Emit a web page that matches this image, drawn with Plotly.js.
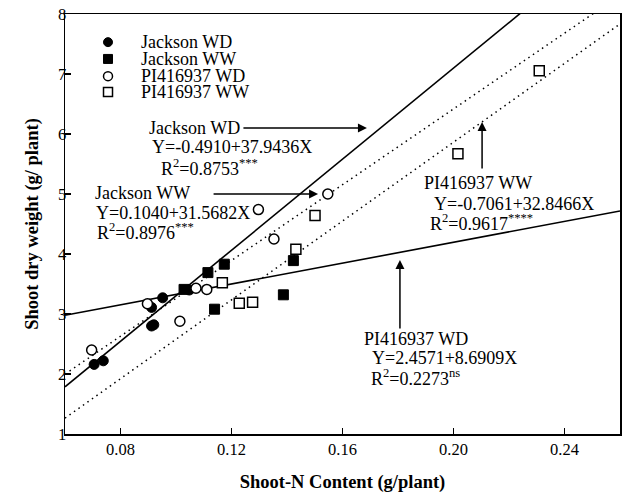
<!DOCTYPE html>
<html>
<head>
<meta charset="utf-8">
<script src="https://cdn.plot.ly/plotly-3.0.1.min.js"></script>
<style>html,body{margin:0;padding:0;background:#fff;}#chart{width:624px;height:493px;}</style>
</head>
<body>
<div id="chart"></div>
<script>
// ---- data ----
const seriesNames = ['Jackson WD', 'Jackson WW', 'PI416937 WD', 'PI416937 WW'];

const xJacksonWD = [0.0705, 0.0738, 0.0912, 0.0920, 0.0912, 0.0952, 0.1048];
const yJacksonWD = [2.16, 2.22, 2.80, 2.82, 3.11, 3.27, 3.40];

const xJacksonWW = [0.1029, 0.1115, 0.1174, 0.1139, 0.1423, 0.1387];
const yJacksonWW = [3.41, 3.69, 3.83, 3.08, 3.89, 3.32];

const xPIWD = [0.0696, 0.0897, 0.1014, 0.1072, 0.1111, 0.1297, 0.1353, 0.1547];
const yPIWD = [2.40, 3.17, 2.88, 3.43, 3.41, 4.74, 4.25, 5.00];

const xPIWW = [0.1167, 0.1228, 0.1276, 0.1432, 0.1501, 0.2016, 0.2309];
const yPIWW = [3.52, 3.18, 3.195, 4.08, 4.64, 5.67, 7.055];

// regression equations (intercept, slope) as printed on the chart
const intercepts = [-0.4910, 0.1040, 2.4571, -0.7061];
const slopes = [37.9436, 31.5682, 8.6909, 32.8466];
const r2Text = ['0.8753', '0.8976', '0.2273', '0.9617'];
const sigText = ['***', '***', 'ns', '****'];

const xRange = [0.06, 0.26];
const yRange = [1, 8];
const xTickVals = [0.08, 0.12, 0.16, 0.20, 0.24];
const xTickText = ['0.08', '0.12', '0.16', '0.20', '0.24'];
const yTickVals = [1, 2, 3, 4, 5, 6, 7, 8];

// ---- styles ----
const FONT = 'Liberation Serif, Times New Roman, serif';
const markerStyles = [
  {symbol: 'circle', color: '#000', line: {color: '#000', width: 1}},
  {symbol: 'square', color: '#000', line: {color: '#000', width: 1}},
  {symbol: 'circle', color: '#fff', line: {color: '#000', width: 1.5}},
  {symbol: 'square', color: '#fff', line: {color: '#000', width: 1.5}}
];
const lineStyles = [
  {color: '#000', width: 1.6, dash: 'solid'},
  {color: '#000', width: 1.5, dash: '1.5px,4px'},
  {color: '#000', width: 1.6, dash: 'solid'},
  {color: '#000', width: 1.5, dash: '1.5px,4px'}
];

const xs = [xJacksonWD, xJacksonWW, xPIWD, xPIWW];
const ys = [yJacksonWD, yJacksonWW, yPIWD, yPIWW];

const traces = [];
// regression lines
for (let i = 0; i < 4; i++) {
  traces.push({
    type: 'scatter', mode: 'lines',
    x: xRange.slice(),
    y: xRange.map(v => intercepts[i] + slopes[i] * v),
    line: lineStyles[i], showlegend: false, hoverinfo: 'skip'
  });
}
// points
for (let i = 0; i < 4; i++) {
  traces.push({
    type: 'scatter', mode: 'markers', name: seriesNames[i],
    x: xs[i], y: ys[i],
    marker: Object.assign({size: 10}, markerStyles[i]),
    showlegend: false, cliponaxis: false
  });
}

// manual legend (keys on an overlay 0..1 axis)
const legendKeyX = 0.0775, legendTextX = 0.1333;
const legendRowsY = [0.933, 0.893, 0.852, 0.814];
for (let i = 0; i < 4; i++) {
  traces.push({
    type: 'scatter', mode: 'markers', xaxis: 'x2', yaxis: 'y2',
    x: [legendKeyX], y: [legendRowsY[i]],
    marker: Object.assign({size: 9}, markerStyles[i]),
    showlegend: false, hoverinfo: 'skip'
  });
}

const annFont = {family: FONT, size: 18, color: '#000'};
function txt(x, y, text) {
  return {x: x, y: y, xref: 'x', yref: 'y', text: text, showarrow: false,
          xanchor: 'left', yanchor: 'middle', font: annFont};
}
function eq(i) {
  const a = intercepts[i].toFixed(4), b = slopes[i].toFixed(4);
  return 'Y=' + a + '+' + b + 'X';
}
function r2(i) {
  return 'R<sup>2</sup>=' + r2Text[i] + '<sup>' + sigText[i] + '</sup>';
}
function arrow(x, y, ax, ay) {
  return {x: x, y: y, xref: 'x', yref: 'y', text: '', showarrow: true,
          ax: ax, ay: ay, arrowhead: 2, arrowsize: 1.2, arrowwidth: 1.5, arrowcolor: '#000'};
}

const annotations = [
  // Jackson WD
  txt(0.0896, 6.10, seriesNames[0]), txt(0.0906, 5.783, eq(0)), txt(0.0939, 5.45, r2(0)),
  arrow(0.1688, 6.10, -125, 0),
  // Jackson WW
  txt(0.0701, 5.017, seriesNames[1]), txt(0.0705, 4.683, eq(1)), txt(0.0708, 4.367, r2(1)),
  arrow(0.1512, 5.00, -106, 0),
  // PI416937 WW
  txt(0.1887, 5.183, seriesNames[3]), txt(0.1923, 4.833, eq(3)), txt(0.1908, 4.533, r2(3)),
  arrow(0.2103, 6.20, 0, 48),
  // PI416937 WD
  txt(0.1670, 2.583, seriesNames[2]), txt(0.1699, 2.267, eq(2)), txt(0.1695, 1.95, r2(2)),
  arrow(0.1807, 3.90, 0, 70)
];
for (let i = 0; i < 4; i++) {
  annotations.push({x: legendTextX, y: legendRowsY[i], xref: 'x2', yref: 'y2',
    text: seriesNames[i], showarrow: false, xanchor: 'left', yanchor: 'middle', font: annFont});
}

const axisCommon = {
  showline: true, linecolor: '#000', linewidth: 1.5, mirror: true,
  ticks: 'inside', ticklen: 6, tickwidth: 1.5, tickcolor: '#000',
  showgrid: false, zeroline: false,
  tickfont: {family: FONT, size: 16.5, color: '#000'}
};

const layout = {
  width: 624, height: 493,
  margin: {l: 65, r: 4, t: 14, b: 59},
  paper_bgcolor: '#fff', plot_bgcolor: '#fff',
  showlegend: false,
  font: {family: FONT, color: '#000'},
  xaxis: Object.assign({}, axisCommon, {
    range: xRange, tickvals: xTickVals, ticktext: xTickText, ticklabelstandoff: 0,
    title: {text: '<b>Shoot-N Content (g/plant)</b>', font: {family: FONT, size: 18.5, color: '#000'}, standoff: 18}
  }),
  yaxis: Object.assign({}, axisCommon, {
    range: yRange, tickvals: yTickVals, ticklabelstandoff: -6,
    title: {text: '<b>Shoot dry weight (g/ plant)</b>', font: {family: FONT, size: 18.5, color: '#000'}, standoff: 14}
  }),
  xaxis2: {overlaying: 'x', range: [0, 1], visible: false, fixedrange: true},
  yaxis2: {overlaying: 'y', range: [0, 1], visible: false, fixedrange: true},
  annotations: annotations
};

Plotly.newPlot('chart', traces, layout, {displayModeBar: false, staticPlot: true});
</script>
</body>
</html>
